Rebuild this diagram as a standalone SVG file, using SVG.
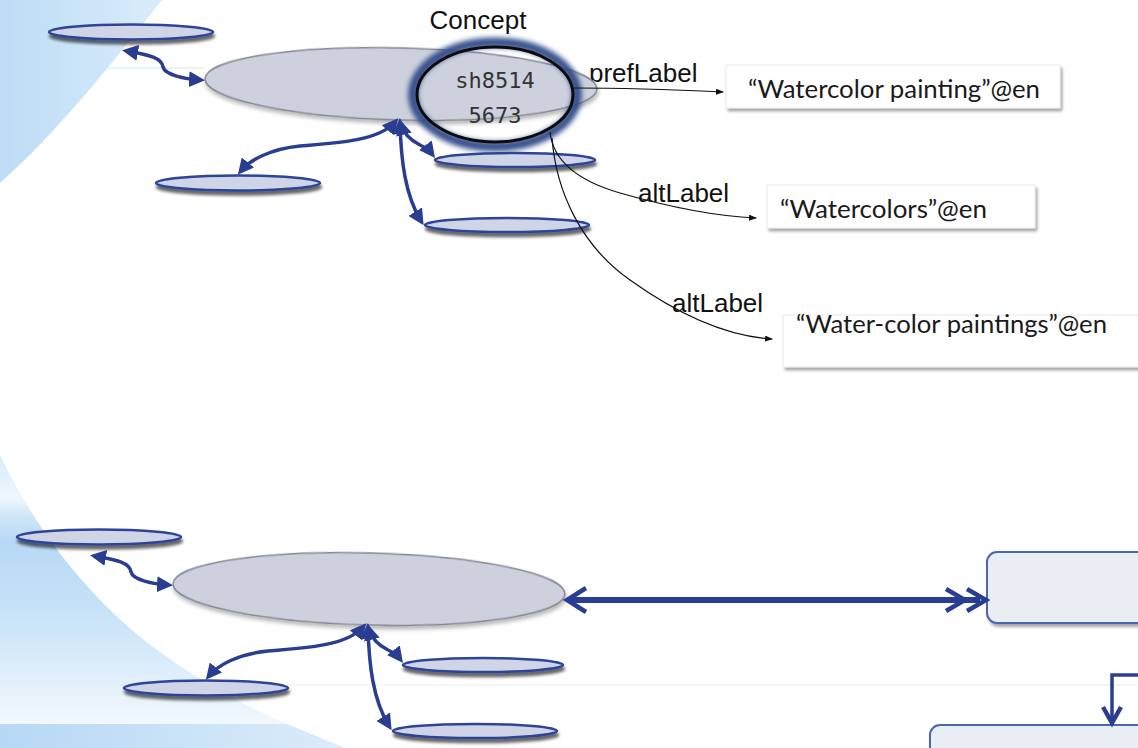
<svg xmlns="http://www.w3.org/2000/svg" width="1138" height="748" viewBox="0 0 1138 748">
  <defs>
    <style>
      .sm { fill: #cfd4e6; stroke: #2d4597; stroke-width: 2.5; filter: url(#shSmall); }
      .big { fill: #cdd1de; stroke: #858894; stroke-width: 1.5; filter: url(#shBig); }
      .arr { fill: none; stroke: #2a3e91; stroke-width: 3.5; marker-start: url(#tri); marker-end: url(#tri); }
      .thin { fill: none; stroke: #111; stroke-width: 1.2; marker-end: url(#tiny); }
      .thick { fill: none; stroke: #2a3e91; stroke-width: 6; }
      .chev { fill: none; stroke: #2a3e91; stroke-width: 4.5; }
      .lbl { font-family: "Liberation Sans", Arial, sans-serif; font-size: 26px; fill: #111; }
      .lit { font-family: Lato, "Open Sans", sans-serif; font-size: 25px; fill: #1a1a1a; }
      .mono { font-family: "DejaVu Sans Mono", "Liberation Mono", monospace; font-size: 22px; fill: #333; text-anchor: middle; }
      .litbox { fill: #fff; stroke: #e4e4e4; stroke-width: 0.8; filter: url(#shBox); }
      .rbox { fill: #e9eef5; stroke: #4c66b6; stroke-width: 2; filter: url(#shBox); }
    </style>
    <linearGradient id="bgTop" x1="0" y1="0" x2="160" y2="0" gradientUnits="userSpaceOnUse">
      <stop offset="0" stop-color="#bddcf5"/>
      <stop offset="1" stop-color="#d9ecfb"/>
    </linearGradient>
    <linearGradient id="bgLow" x1="0" y1="455" x2="0" y2="724" gradientUnits="userSpaceOnUse">
      <stop offset="0" stop-color="#d7ebfa"/>
      <stop offset="0.16" stop-color="#eef6fd"/>
      <stop offset="0.23" stop-color="#cfe6f8"/>
      <stop offset="0.32" stop-color="#b7d9f5"/>
      <stop offset="0.6" stop-color="#c9e3f8"/>
      <stop offset="1" stop-color="#f2f8fd"/>
    </linearGradient>
    <linearGradient id="bgBand" x1="0" y1="0" x2="345" y2="0" gradientUnits="userSpaceOnUse">
      <stop offset="0" stop-color="#b6d8f5"/>
      <stop offset="1" stop-color="#dcecfa"/>
    </linearGradient>
    <filter id="shSmall" x="-10%" y="-100%" width="120%" height="320%">
      <feGaussianBlur in="SourceAlpha" stdDeviation="1.8"/>
      <feOffset dx="1" dy="3.5" result="o"/>
      <feComponentTransfer><feFuncA type="linear" slope="0.6"/></feComponentTransfer>
      <feMerge><feMergeNode/><feMergeNode in="SourceGraphic"/></feMerge>
    </filter>
    <filter id="shBig" x="-10%" y="-30%" width="120%" height="160%">
      <feGaussianBlur in="SourceAlpha" stdDeviation="2"/>
      <feOffset dx="1" dy="3"/>
      <feComponentTransfer><feFuncA type="linear" slope="0.3"/></feComponentTransfer>
      <feMerge><feMergeNode/><feMergeNode in="SourceGraphic"/></feMerge>
    </filter>
    <filter id="shBox" x="-10%" y="-30%" width="120%" height="160%">
      <feGaussianBlur in="SourceAlpha" stdDeviation="1.6"/>
      <feOffset dx="1.5" dy="2.5"/>
      <feComponentTransfer><feFuncA type="linear" slope="0.35"/></feComponentTransfer>
      <feMerge><feMergeNode/><feMergeNode in="SourceGraphic"/></feMerge>
    </filter>
    <filter id="soft" x="-20%" y="-20%" width="140%" height="140%">
      <feGaussianBlur stdDeviation="2.4"/>
    </filter>
    <marker id="tri" viewBox="0 0 16 16" refX="11" refY="8" markerWidth="16" markerHeight="16" markerUnits="userSpaceOnUse" orient="auto-start-reverse">
      <path d="M0,0 L16,8 L0,16 Z" fill="#2a3e91"/>
    </marker>
    <marker id="tiny" viewBox="0 0 8 6" refX="7" refY="3" markerWidth="8" markerHeight="6" markerUnits="userSpaceOnUse" orient="auto">
      <path d="M0,0 L8,3 L0,6 Z" fill="#111"/>
    </marker>
  </defs>

  <!-- slide backdrop -->
  <rect width="1138" height="748" fill="#fff"/>
  <g id="backdrop">
    <path d="M0,0 L162,0 C116,58 60,130 0,183 Z" fill="url(#bgTop)"/>
    <path d="M0,455 C38,535 95,605 160,652 C215,692 275,722 345,748 L0,748 Z" fill="url(#bgLow)"/>
    <path d="M0,724 L287,724 L345,748 L0,748 Z" fill="url(#bgBand)"/>
    <line x1="82" y1="68" x2="205" y2="68" stroke="#d3e7f8" stroke-width="1"/>
    <line x1="287" y1="685" x2="1138" y2="685" stroke="#eceef2" stroke-width="1"/>
  </g>

  <g id="label-pref">
    <text class="lbl" x="589" y="82">prefLabel</text>
  </g>

  <!-- upper cluster -->
  <g id="concept-top">
    <ellipse class="big" cx="401" cy="84" rx="196" ry="36" transform="rotate(1.5 401 84)"/>
    <ellipse cx="495" cy="94.5" rx="82" ry="52" fill="none" stroke="#2e4a88" stroke-width="10" opacity="0.95" filter="url(#soft)"/>
    <ellipse cx="495" cy="94.5" rx="78" ry="47.5" fill="none" stroke="#0b0b0b" stroke-width="3"/>
    <text class="mono" x="495" y="88">sh8514</text>
    <text class="mono" x="495" y="123">5673</text>
    <text class="lbl" x="478" y="29" text-anchor="middle">Concept</text>
  </g>
  <g id="top-broader"><ellipse class="sm" cx="131" cy="32" rx="82" ry="7.5"/></g>
  <g id="top-related"><ellipse class="sm" cx="238" cy="183" rx="82" ry="7.5"/></g>
  <g id="top-narrower-1"><ellipse class="sm" cx="515" cy="160" rx="80" ry="7"/></g>
  <g id="top-narrower-2"><ellipse class="sm" cx="507" cy="225" rx="82" ry="7"/></g>

  <g id="lit-pref">
    <rect class="litbox" x="726" y="65" width="334" height="43"/>
    <text class="lit" x="748" y="98" textLength="292" lengthAdjust="spacingAndGlyphs">“Watercolor painting”@en</text>
  </g>
  <g id="lit-alt-1">
    <rect class="litbox" x="767" y="185" width="268" height="43"/>
    <text class="lit" x="780" y="218" textLength="207" lengthAdjust="spacingAndGlyphs">“Watercolors”@en</text>
  </g>
  <g id="lit-alt-2">
    <rect class="litbox" x="783" y="315" width="370" height="52"/>
    <text class="lit" x="796" y="333" textLength="311" lengthAdjust="spacingAndGlyphs">“Water-color paintings”@en</text>
  </g>

  <!-- lower cluster -->
  <g id="concept-bottom">
    <ellipse class="big" cx="369" cy="589" rx="196" ry="36" transform="rotate(1.5 369 589)"/>
  </g>
  <g id="bottom-broader"><ellipse class="sm" cx="99" cy="537" rx="82" ry="7.5"/></g>
  <g id="bottom-related"><ellipse class="sm" cx="206" cy="688" rx="82" ry="7.5"/></g>
  <g id="bottom-narrower-1"><ellipse class="sm" cx="483" cy="665" rx="80" ry="7"/></g>
  <g id="bottom-narrower-2"><ellipse class="sm" cx="475" cy="731" rx="82" ry="7"/></g>

  <g id="target-1"><rect class="rbox" x="987" y="552" width="200" height="71" rx="10"/></g>
  <g id="target-2"><rect class="rbox" x="930" y="725" width="260" height="60" rx="10"/></g>

  <g id="connectors">
    <!-- upper semantic links -->
    <path class="arr" d="M127,51 C150,55 162,58 163,67 C165,75 185,79 200,80"/>
    <path class="arr" d="M395,122 C380,140 340,143 300,146 C270,149 250,160 241,171"/>
    <path class="arr" d="M401,124 C404,135 412,141 420,145 C427,148 429,150 432,154"/>
    <path class="arr" d="M400,123 C401,160 405,195 421,221"/>
    <!-- lower semantic links -->
    <g transform="translate(-32 505)">
      <path class="arr" d="M127,51 C150,55 162,58 163,67 C165,75 185,79 200,80"/>
      <path class="arr" d="M395,122 C380,140 340,143 300,146 C270,149 250,160 241,171"/>
      <path class="arr" d="M401,124 C404,135 412,141 420,145 C427,148 429,150 432,154"/>
      <path class="arr" d="M400,123 C401,160 405,195 421,221"/>
    </g>
    <!-- label properties -->
    <path class="thin" d="M574,88 C620,88 680,90 723,92"/>
    <path class="thin" d="M550,132 C553,160 575,180 620,193 C662,205 712,216 756,218"/>
    <path class="thin" d="M552,138 C556,190 580,245 630,280 C672,310 722,336 772,339"/>
    <text class="lbl" x="638" y="202">altLabel</text>
    <text class="lbl" x="672" y="312">altLabel</text>
    <!-- mapping link -->
    <path class="thick" d="M570,600 L980,600"/>
    <path class="chev" d="M586,588 L567,600 L586,612"/>
    <path class="chev" d="M946,589 L965,600 L946,611"/>
    <path class="chev" d="M967,589 L986,600 L967,611"/>
    <path fill="none" stroke="#2a3e91" stroke-width="3.5" d="M1138,675 L1112,675 L1112,721"/>
    <path class="chev" stroke-width="3.5" d="M1103,707 L1112,723 L1121,707"/>
  </g>
</svg>
